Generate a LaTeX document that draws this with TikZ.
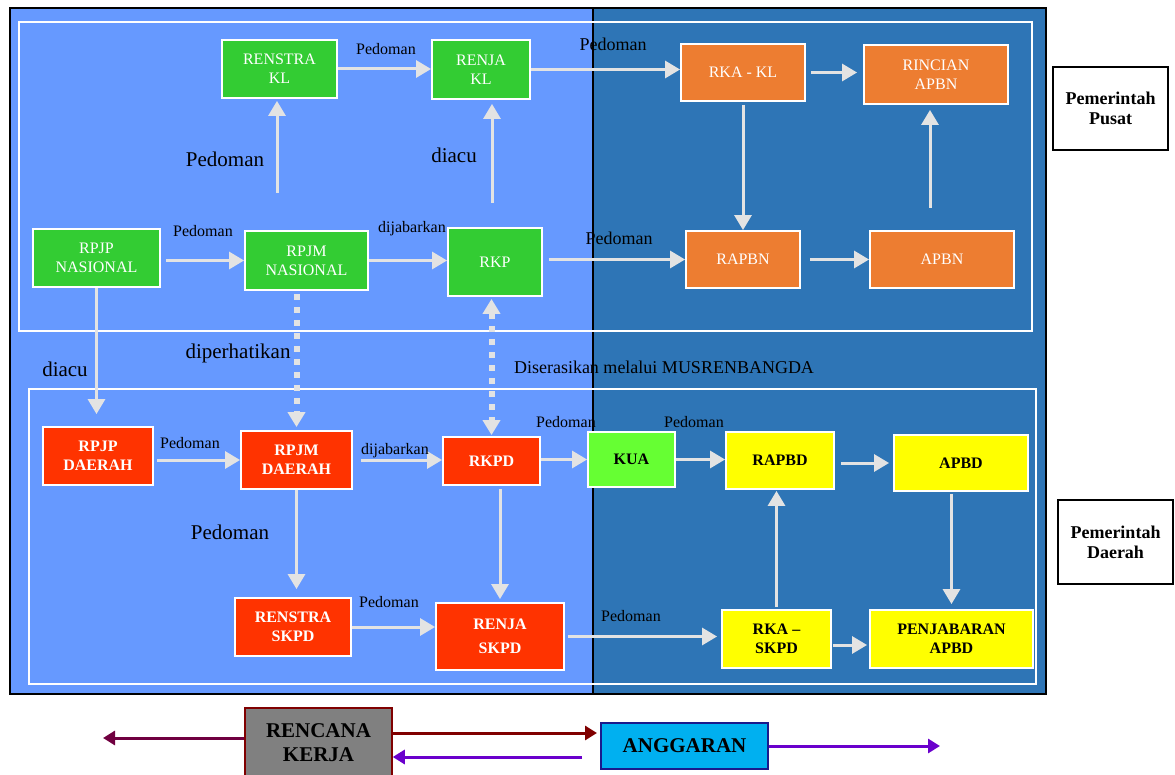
\documentclass[tikz,border=0pt]{standalone}
\usepackage{fontspec}
\setmainfont{Liberation Serif}
\usetikzlibrary{arrows.meta}
\definecolor{bgL}{HTML}{6699FF}
\definecolor{bgR}{HTML}{2E75B6}
\definecolor{gTop}{HTML}{33CC33}
\definecolor{orn}{HTML}{ED7D31}
\definecolor{redB}{HTML}{FF3300}
\definecolor{kuaG}{HTML}{66FF33}
\definecolor{yel}{HTML}{FFFF00}
\definecolor{lgray}{HTML}{E3E3E3}
\definecolor{maroonA}{HTML}{700040}
\definecolor{maroonB}{HTML}{800000}
\definecolor{purp}{HTML}{6A00CC}
\definecolor{cyanA}{HTML}{00B0F0}
\definecolor{navyB}{HTML}{1A1A8C}
\definecolor{grayB}{HTML}{808080}
\tikzset{
 nbox/.style={draw=white, line width=1.8pt, align=center, inner sep=1pt, font=\fontsize{16}{19}\selectfont},
 topbox/.style={nbox, text=white},
 redbox/.style={nbox, fill=redB, text=white, font=\fontsize{16}{19}\selectfont\bfseries},
 ylwbox/.style={nbox, fill=yel, text=black, font=\fontsize{16}{19}\selectfont\bfseries},
 sidebox/.style={draw=black, line width=1.5pt, fill=white, align=center, font=\fontsize{18}{20}\selectfont\bfseries},
 conn/.style={draw=lgray, line width=3pt, -{Triangle[length=15pt,width=17pt]}},
 dotc/.style={draw=lgray, line width=6pt, dash pattern=on 6pt off 7pt},
 lsmall/.style={font=\fontsize{16}{19}\selectfont, inner sep=0pt},
 lmid/.style={font=\fontsize{18}{21}\selectfont, inner sep=0pt},
 lbig/.style={font=\fontsize{21}{25}\selectfont, inner sep=0pt},
 legarrow/.style={line width=3pt, -{Triangle[length=12pt,width=14pt]}},
 legbox/.style={align=center, font=\fontsize{21}{24}\selectfont\bfseries, inner sep=1pt},
}
\begin{document}
\begin{tikzpicture}[x=1pt,y=-1pt]
\useasboundingbox (0,0) rectangle (1175,775);
% backgrounds
\fill[bgL] (10,8) rectangle (593,694);
\fill[bgR] (593,8) rectangle (1046,694);
\draw[black, line width=1.2pt] (593,8) -- (593,694);
\draw[black, line width=2pt] (10,8) rectangle (1046,694);
\draw[white, line width=1.5pt] (19,22) rectangle (1032,331);
\draw[white, line width=1.5pt] (29,389) rectangle (1036,684);

% top nodes
\node[topbox, fill=gTop, minimum width=115pt, minimum height=58pt] (rkl) at (279.5,69) {RENSTRA\\KL};
\node[topbox, fill=gTop, minimum width=98pt, minimum height=59pt] (rjkl) at (481,69.5) {RENJA\\KL};
\node[topbox, fill=orn, minimum width=124pt, minimum height=57pt] (rkakl) at (743,72.5) {RKA - KL};
\node[topbox, fill=orn, minimum width=144pt, minimum height=59pt] (rincian) at (936,74.5) {RINCIAN\\APBN};
\node[topbox, fill=gTop, minimum width=127pt, minimum height=58pt] (rpjpn) at (96.5,258) {RPJP\\NASIONAL};
\node[topbox, fill=gTop, minimum width=123pt, minimum height=59pt] (rpjmn) at (306.5,260.5) {RPJM\\NASIONAL};
\node[topbox, fill=gTop, minimum width=94pt, minimum height=68pt] (rkp) at (495,262) {RKP};
\node[topbox, fill=orn, minimum width=114pt, minimum height=57pt] (rapbn) at (743,259.5) {RAPBN};
\node[topbox, fill=orn, minimum width=144pt, minimum height=57pt] (apbn) at (942,259.5) {APBN};
\node[sidebox, minimum width=115pt, minimum height=83pt] (pusat) at (1110.5,108.5) {Pemerintah\\Pusat};

% bottom nodes
\node[redbox, minimum width=110pt, minimum height=58pt] (rpjpd) at (98,456) {RPJP\\DAERAH};
\node[redbox, minimum width=111pt, minimum height=58pt] (rpjmd) at (296.5,460) {RPJM\\DAERAH};
\node[redbox, minimum width=97pt, minimum height=48pt] (rkpd) at (491.5,461) {RKPD};
\node[ylwbox, fill=kuaG, minimum width=87pt, minimum height=55pt] (kua) at (631.5,459.5) {KUA};
\node[ylwbox, minimum width=108pt, minimum height=57pt] (rapbd) at (780,460.5) {RAPBD};
\node[ylwbox, minimum width=134pt, minimum height=56pt] (apbd) at (961,463) {APBD};
\node[redbox, minimum width=116pt, minimum height=58pt] (renstrad) at (293,627) {RENSTRA\\SKPD};
\node[redbox, minimum width=128pt, minimum height=67pt] (renjad) at (500,636.5) {RENJA\\[5pt]SKPD};
\node[ylwbox, minimum width=109pt, minimum height=58pt] (rkaskpd) at (776.5,639) {RKA --\\SKPD};
\node[ylwbox, minimum width=163pt, minimum height=58pt] (penjab) at (951.5,639) {PENJABARAN\\APBD};
\node[sidebox, minimum width=115pt, minimum height=84pt] (daerah) at (1115.5,542) {Pemerintah\\Daerah};

% free coordinates
\coordinate (upA) at (930,208);
\coordinate (upP) at (277,193);
\coordinate (upD) at (492,203);

% top connectors
\draw[conn] (rkl.east) -- (rjkl.west|-rkl.east);
\draw[conn] (rjkl.east) -- (rkakl.west|-rjkl.east);
\draw[conn, shorten <=5pt, shorten >=6pt] (rkakl.east) -- (rincian.west|-rkakl.east);
\draw[conn, shorten <=3pt] (rkakl.south) -- (rapbn.north);
\draw[conn, shorten >=5pt] (upA) -- (upA|-rincian.south);
\draw[conn, shorten <=5pt] (rpjpn.east|-rpjmn.west) -- (rpjmn.west);
\draw[conn] (rpjmn.east) -- (rkp.west|-rpjmn.east);
\draw[conn, shorten <=6pt] (rkp.east|-rapbn.west) -- (rapbn.west);
\draw[conn, shorten <=9pt] (rapbn.east) -- (apbn.west|-rapbn.east);
\draw[conn, shorten >=2pt] (upP) -- (upP|-rkl.south);
\draw[conn, shorten >=4pt] (upD) -- (upD|-rjkl.south);

% cross connectors
\draw[conn, shorten >=12pt] (rpjpn.south) -- (rpjpn.south|-rpjpd.north);
\draw[dotc, -{Triangle[length=15pt,width=17pt]}, shorten <=3pt, shorten >=3pt] (rpjmd.north|-rpjmn.south) -- (rpjmd.north);
\draw[dotc, {Triangle[length=15pt,width=17pt]}-{Triangle[length=15pt,width=17pt]}, shorten <=2pt, shorten >=1pt] (rkpd.north|-rkp.south) -- (rkpd.north);

% bottom connectors
\draw[conn, shorten <=3pt] (rpjpd.east|-rpjmd.west) -- (rpjmd.west);
\draw[conn, shorten <=8pt] (rpjmd.east) -- (rkpd.west|-rpjmd.east);
\draw[conn] (rkpd.east|-kua.west) -- (kua.west);
\draw[conn] (kua.east) -- (rapbd.west|-kua.east);
\draw[conn, shorten <=6pt, shorten >=4pt] (rapbd.east|-apbd.west) -- (apbd.west);
\draw[conn, shorten <=2pt, shorten >=5pt] (penjab.north|-apbd.south) -- (penjab.north);
\draw[conn, shorten >=8pt] (rpjmd.south) -- (rpjmd.south|-renstrad.north);
\draw[conn, shorten <=3pt, shorten >=3pt] (renjad.north|-rkpd.south) -- (renjad.north);
\draw[conn] (renstrad.east) -- (renjad.west|-renstrad.east);
\draw[conn, shorten <=3pt, shorten >=4pt] (renjad.east) -- (rkaskpd.west|-renjad.east);
\draw[conn, shorten <=2pt, shorten >=1pt] (rkaskpd.north) -- (rkaskpd.north|-rapbd.south);
\draw[conn, shorten <=1pt, shorten >=2pt] ([yshift=-6pt]rkaskpd.east) -- ([yshift=-6pt]penjab.west);

% labels
\node[lsmall] (l1) at (386,49) {Pedoman};
\node[lmid] (l2) at (613,44) {Pedoman};
\node[lbig] (l3) at (225,159) {Pedoman};
\node[lbig] (l4) at (454,155) {diacu};
\node[lsmall] (l5) at (203,231) {Pedoman};
\node[lsmall] (l6) at (412,229) {dijabarkan};
\node[lmid] (l7) at (619,238) {Pedoman};
\node[lbig] (l8) at (65,369) {diacu};
\node[lbig] (l9) at (238,353) {diperhatikan};
\node[lmid] (l10) at (664,367) {Diserasikan melalui MUSRENBANGDA};
\node[lsmall] (l11) at (190,443) {Pedoman};
\node[lsmall] (l12) at (395,451) {dijabarkan};
\node[lsmall] (l13) at (566,422) {Pedoman};
\node[lsmall] (l14) at (694,422) {Pedoman};
\node[lbig] (l15) at (230,532) {Pedoman};
\node[lsmall] (l16) at (389,602) {Pedoman};
\node[lsmall] (l17) at (631,616) {Pedoman};

% legend
\node[legbox, fill=grayB, draw=maroonB, line width=1.5pt, minimum width=147pt, minimum height=70pt] (rencana) at (318.5,743) {RENCANA\\KERJA};
\node[legbox, fill=cyanA, draw=navyB, line width=2pt, minimum width=167pt, minimum height=46pt] (anggaran) at (684.5,746) {ANGGARAN};
\coordinate (lL) at (103,738);
\coordinate (rR) at (940,746);
\draw[legarrow, draw=maroonA, fill=maroonA] (rencana.west|-lL) -- (lL);
\draw[legarrow, draw=maroonB, fill=maroonB, shorten >=3pt] ([yshift=10pt]rencana.east) -- ([yshift=13pt]anggaran.west);
\draw[legarrow, draw=purp, fill=purp, shorten <=18pt] ([yshift=-11pt]anggaran.west) -- ([yshift=-14pt]rencana.east);
\draw[legarrow, draw=purp, fill=purp] (anggaran.east) -- (rR);
\end{tikzpicture}
\end{document}
